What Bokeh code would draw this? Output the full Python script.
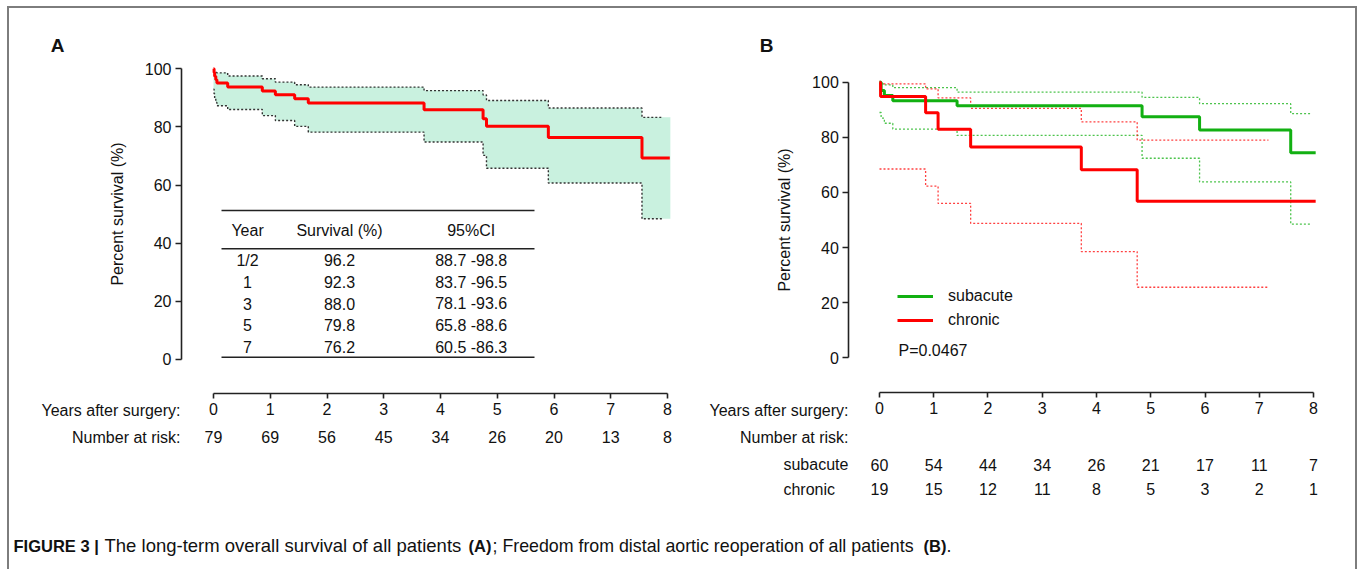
from bokeh.plotting import figure
from bokeh.models import (Range1d, FixedTicker, ColumnDataSource, Legend, LegendItem)
from bokeh.layouts import column, row
from bokeh.embed import file_html
from bokeh.resources import INLINE
from bokeh.core.properties import value

FONT = "Liberation Sans"
FS = "16px"
AX = "#222222"
TXT = "#111111"

# ---------------- data ----------------
years = [0, 1, 2, 3, 4, 5, 6, 7, 8]
y_ticks = [0, 20, 40, 60, 80, 100]
risk_all = ["79", "69", "56", "45", "34", "26", "20", "13", "8"]
risk_sub = ["60", "54", "44", "34", "26", "21", "17", "11", "7"]
risk_chr = ["19", "15", "12", "11", "8", "5", "3", "2", "1"]

# Panel A: overall survival (Kaplan-Meier) with 95% CI
a_time = [0, 0.01, 0.02, 0.04, 0.06, 0.25, 0.86, 1.09, 1.43, 1.67, 3.71, 4.75, 4.81, 5.90, 7.55]
a_surv = [100, 98.7, 97.4, 96.2, 95.1, 93.7, 92.4, 91.1, 89.7, 88.2, 85.9, 82.8, 80.2, 76.4, 69.3]
a_upper = [99.2, 99.0, 98.8, 98.7, 98.6, 97.5, 96.6, 95.4, 94.5, 93.7, 92.5, 91.0, 89.1, 86.5, 83.3]
a_lower = [93.0, 91.4, 89.8, 88.4, 87.3, 86.0, 83.9, 82.2, 80.2, 78.2, 74.8, 70.2, 65.8, 60.7, 48.4]
a_end_curve = 8.04
a_end_ci = 7.92
a_end_band = 8.05

tbl_header = ["Year", "Survival (%)", "95%CI"]
tbl_year = ["1/2", "1", "3", "5", "7"]
tbl_surv = ["96.2", "92.3", "88.0", "79.8", "76.2"]
tbl_ci = ["88.7 -98.8", "83.7 -96.5", "78.1 -93.6", "65.8 -88.6", "60.5 -86.3"]

# Panel B: freedom from distal aortic reoperation
b_sub_time = [0, 0.03, 0.09, 0.245, 1.43, 4.84, 5.90, 7.58]
b_sub_surv = [100, 97.0, 95.2, 93.3, 91.5, 87.5, 82.7, 74.4]
b_sub_upper = [100, 99.4, 99.0, 98.0, 96.4, 94.5, 92.2, 88.6]
b_sub_lower = [89.0, 87.0, 85.1, 83.0, 80.7, 72.4, 63.8, 48.5]
b_chr_time = [0, 0.02, 0.85, 1.08, 1.68, 3.72, 4.75]
b_chr_surv = [100, 94.8, 88.9, 82.9, 76.5, 68.2, 56.8]
b_chr_upper = [99.4, 99.4, 97.6, 94.3, 90.5, 85.6, 79.0]
b_chr_lower = [68.5, 68.5, 62.3, 56.0, 48.8, 38.5, 25.6]
b_end_curve = 8.04
b_sub_end_ci = 7.95
b_chr_end_ci = 7.17
p_value = "P=0.0467"

RED = "#ff0000"
GREEN = "#12b012"
BAND = "#c9f1df"

# ---------------- layout geometry (pixels) ----------------
OX, OY = 7, 6                # outer frame offset
W_A, W_B, H_P, H_C = 701, 649, 507, 56


def stepped(t, s, end):
    return list(t) + [end], list(s) + [s[-1]]


def panel(width, xr, yr, y_axis_at, x_axis_at):
    p = figure(width=width, height=H_P, x_range=Range1d(*xr), y_range=Range1d(*yr),
               output_backend="svg", toolbar_location=None, min_border=0)
    p.border_fill_color = None
    p.background_fill_color = None
    p.outline_line_color = None
    p.xgrid.visible = False
    p.ygrid.visible = False
    xa, ya = p.xaxis[0], p.yaxis[0]
    for ax in (xa, ya):
        ax.axis_line_color = AX
        ax.axis_line_width = 1.6
        ax.major_tick_line_color = AX
        ax.major_tick_line_width = 1.6
        ax.minor_tick_line_color = None
        ax.major_tick_in = 0
        ax.major_label_text_font = FONT
        ax.major_label_text_font_size = FS
        ax.major_label_text_color = TXT
        ax.axis_label_text_font = FONT
        ax.axis_label_text_font_size = FS
        ax.axis_label_text_font_style = "normal"
        ax.axis_label_text_color = TXT
    xa.ticker = FixedTicker(ticks=years)
    xa.bounds = (0, 8)
    xa.major_tick_out = 5
    xa.major_label_standoff = 4
    xa.fixed_location = x_axis_at
    ya.ticker = FixedTicker(ticks=y_ticks)
    ya.bounds = (0, 100)
    ya.major_tick_out = 6
    ya.major_label_standoff = 4
    ya.axis_label = "Percent survival (%)"
    ya.axis_label_standoff = 16
    ya.fixed_location = y_axis_at
    return p


def txt(p, x, y, text, align="right", bold=False, size=FS):
    p.text(x=[x], y=[y], text=[text], text_align=align, text_baseline="middle",
           text_font=value(FONT), text_font_size=size, text_color=TXT,
           text_font_style="bold" if bold else "normal")


def risk_row(p, y, texts):
    src = ColumnDataSource(dict(x=years, y=[y] * len(years), t=texts))
    p.text(x="x", y="y", text="t", source=src, text_align="center", text_baseline="middle",
           text_font=value(FONT), text_font_size=FS, text_color=TXT)


# ---------------- Panel A ----------------
pA = panel(W_A, (-3.630, 8.722), (-52.98, 121.43), y_axis_at=-0.564, x_axis_at=-11.70)

bx, bl = stepped(a_time, a_lower, a_end_band)
_, bu = stepped(a_time, a_upper, a_end_band)
pA.varea_step(x=bx, y1=bl, y2=bu, step_mode="after", fill_color=BAND, fill_alpha=1.0)
for ci in (a_upper, a_lower):
    cx, cy = stepped(a_time, ci, a_end_ci)
    pA.step(cx, cy, mode="after", line_color="#333333", line_width=1.4, line_dash="2 2")
sx, sy = stepped(a_time, a_surv, a_end_curve)
pA.step(sx, sy, mode="after", line_color=RED, line_width=3)

# inset table
tbl_x0, tbl_x1 = 0.141, 5.656
tbl_lines = [51.26, 38.08, 0.79]
pA.segment(x0=[tbl_x0] * 3, x1=[tbl_x1] * 3, y0=tbl_lines, y1=tbl_lines,
           line_color=AX, line_width=1.6)
col_x = [0.60, 2.22, 4.54]
row_y = [34.06, 26.59, 19.16, 11.70, 4.23]
hdr = ColumnDataSource(dict(x=col_x, y=[44.36] * 3, t=tbl_header))
pA.text(x="x", y="y", text="t", source=hdr, text_align="center", text_baseline="middle",
        text_font=value(FONT), text_font_size=FS, text_color=TXT)
cells_x, cells_y, cells_t = [], [], []
for i in range(len(tbl_year)):
    for cx_, ct in zip(col_x, (tbl_year[i], tbl_surv[i], tbl_ci[i])):
        cells_x.append(cx_)
        cells_y.append(row_y[i])
        cells_t.append(ct)
cells = ColumnDataSource(dict(x=cells_x, y=cells_y, t=cells_t))
pA.text(x="x", y="y", text="t", source=cells, text_align="center", text_baseline="middle",
        text_font=value(FONT), text_font_size=FS, text_color=TXT)

txt(pA, -2.749, 108.0, "A", align="center", bold=True, size="19px")
txt(pA, -0.581, -17.54, "Years after surgery:")
txt(pA, -0.581, -26.83, "Number at risk:")
risk_row(pA, -26.83, risk_all)

# ---------------- Panel B ----------------
pB = panel(W_B, (-3.152, 8.811), (-56.50, 127.47), y_axis_at=-0.566, x_axis_at=-12.77)

for t, ci, end, col in ((b_sub_time, b_sub_upper, b_sub_end_ci, GREEN),
                        (b_sub_time, b_sub_lower, b_sub_end_ci, GREEN),
                        (b_chr_time, b_chr_upper, b_chr_end_ci, RED),
                        (b_chr_time, b_chr_lower, b_chr_end_ci, RED)):
    cx, cy = stepped(t, ci, end)
    pB.step(cx, cy, mode="after", line_color=col, line_width=1.3, line_dash="2 2", line_alpha=0.75)

gx, gy = stepped(b_sub_time, b_sub_surv, b_end_curve)
r_sub = pB.step(gx, gy, mode="after", line_color=GREEN, line_width=3)
rx, ry = stepped(b_chr_time, b_chr_surv, b_end_curve)
r_chr = pB.step(rx, ry, mode="after", line_color=RED, line_width=3)

leg = Legend(items=[LegendItem(label="subacute", renderers=[r_sub]),
                    LegendItem(label="chronic", renderers=[r_chr])],
             location=(189, 183), glyph_width=36, glyph_height=20, label_height=20,
             label_standoff=15, spacing=4, padding=0, margin=0,
             border_line_color=None, background_fill_alpha=0,
             label_text_font=FONT, label_text_font_size=FS, label_text_color=TXT)
pB.add_layout(leg)

txt(pB, 0.35, 2.65, p_value, align="left")
txt(pB, -2.083, 113.3, "B", align="center", bold=True, size="19px")
txt(pB, -0.571, -19.12, "Years after surgery:")
txt(pB, -0.571, -28.92, "Number at risk:")
txt(pB, -1.77, -38.72, "subacute", align="left")
txt(pB, -1.77, -47.79, "chronic", align="left")
risk_row(pB, -38.72, risk_sub)
risk_row(pB, -47.79, risk_chr)

# ---------------- Caption ----------------
pC = figure(width=W_A + W_B, height=H_C, x_range=Range1d(OX, OX + W_A + W_B),
            y_range=Range1d(OY + H_P + H_C, OY + H_P),
            output_backend="svg", toolbar_location=None, min_border=0,
            x_axis_type=None, y_axis_type=None)
pC.border_fill_color = None
pC.background_fill_color = None
pC.outline_line_color = None
pC.grid.visible = False
cap_parts = ["FIGURE 3 |", "The long-term overall survival of all patients", "(A)",
             "; Freedom from distal aortic reoperation of all patients", "(B)", "."]
cap_bold = [True, False, True, False, True, False]
cap_size = ["16.5px", "18.5px", "16.5px", "17.8px", "16.5px", "17.8px"]
cap_x = [13, 104, 468, 492, 923, 946]
for t_, b_, s_, x_ in zip(cap_parts, cap_bold, cap_size, cap_x):
    txt(pC, x_, 545, t_, align="left", bold=b_, size=s_)

layout = column(row(pA, pB), pC, margin=(OY, 0, 0, OX),
                styles={"box-shadow": "inset 2px 0 0 #7d7d7d, inset 0 2px 0 #7d7d7d, inset -2px 0 0 #7d7d7d"})

open("out.html", "w").write(file_html(layout, INLINE))
